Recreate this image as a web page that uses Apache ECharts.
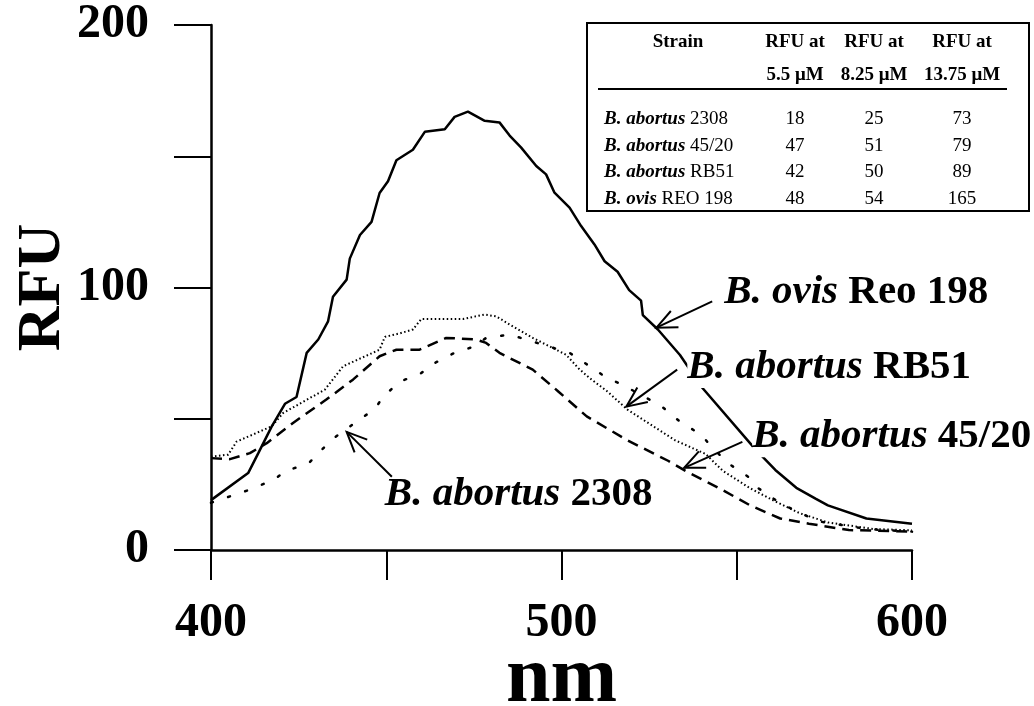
<!DOCTYPE html>
<html><head><meta charset="utf-8">
<script src="https://cdn.jsdelivr.net/npm/echarts@6/dist/echarts.min.js"></script>
<style>html,body{margin:0;padding:0;background:#fff}#c{width:1034px;height:706px}</style>
</head><body><div id="c"></div>
<script>
// ---- data ----
const ovisX = [400,410.6,413.5,417.3,421.1,424.4,427.3,430.6,433.4,434.8,438.7,439.6,442.5,445.8,448.1,450.5,452.9,457.6,461,466.7,469.5,473.3,478.1,482.3,485.2,488.5,492.8,495.6,498,502.3,505.6,509.4,512.3,516,519.3,522.7,523.2,527.5,533.8,540.1,555.2,561,567,572.6,576,587,600];
const ovisY = [19,29.3,36.9,47,55.7,58.3,75.1,80.2,87.1,96.5,103,111,120,125,136,140.5,148.5,152.5,159.3,160.3,165,167,163.5,162.9,157.9,153.3,146.3,143.1,136.1,130.4,123.4,116.4,110,106,99,95,89.5,84,74.3,61.9,38.5,30.5,23.7,19.5,17,12,10];

const rb51X = [400,404.9,407.3,417.3,420.6,432.5,437.7,448.1,449.6,453.8,457.6,460,471.9,478.1,481.4,485.2,491.8,501.3,505,508,513,518.8,532.4,541.1,546,553.7,561,568,576,589,600];
const rb51Y = [35.6,36.3,41.3,47.1,52.2,61.1,70,76.3,81.2,82.5,84,88,88,89.7,89,85.9,80.8,74.4,69,65.5,60.5,53.5,41.8,36.6,30.2,23.6,18.5,14,10.5,8,7.5];

const a4520X = [400,405.4,411.1,415.9,423.4,432.9,440.5,448.1,452.9,459.5,467.1,475.6,478.5,482.3,491.8,499,507.2,518.8,530.4,536.2,544.9,553.7,562.4,570.6,582,600];
const a4520Y = [35,34.6,36.9,40.7,48.4,57.3,64.9,73.8,76.3,76.3,80.8,80.2,78.9,75.1,68.7,60.5,50.9,41.8,34,29.5,23.6,17.1,12,10,7.6,7];

const a2308X = [400,411.6,418.2,421.4,427.7,432.5,435.3,441,446.7,449.1,453.7,460,462.9,469,475.2,478.5,485.2,502.3,508.5,512,518.8,528.5,533.8,540.1,542.6,547.9,553.7,556.1,562.4,573,587,600];
const a2308Y = [18,23.2,27,30.2,32.8,39.4,42.9,48.4,53.7,58.3,64,67.4,70.6,74.8,77.6,80.8,82.1,75.1,69.6,66.4,61.9,54.8,48.9,43.7,39.5,32.7,27.5,23.6,17.8,11,8,7];

const xTicks = [400,500,600];
const yTicks = [0,100,200];

// table
const tableGenus  = ['B. abortus','B. abortus','B. abortus','B. ovis'];
const tableStrain = ['2308','45/20','RB51','REO 198'];
const tableHead1  = ['RFU at','RFU at','RFU at'];
const tableHead2  = ['5.5 \u03bcM','8.25 \u03bcM','13.75 \u03bcM'];
const rfu55   = [18,47,42,48];
const rfu825  = [25,51,50,54];
const rfu1375 = [73,79,89,165];

// curve labels
const labelGenus  = ['B. ovis','B. abortus','B. abortus','B. abortus'];
const labelStrain = ['Reo 198','RB51','45/20','2308'];

// ---- layout (data-space anchors for annotations) ----
const labelAnchor = [[546.4,98.1],[535.9,69.5],[554.4,43.1],[449.6,21.0]];
const arrowTail   = [[543,94.7],[533,68.7],[551.6,41.2],[451.6,27.9]];
const arrowTip    = [[527.1,84.7],[518.5,54.6],[535,31.3],[438.7,45]];

const FONT = "'Liberation Serif','Times New Roman',serif";
const pair = (xs, ys) => xs.map((x, i) => [x, ys[i]]);

const chart = echarts.init(document.getElementById('c'), null, {renderer: 'canvas'});

const base = {
  type: 'line', symbol: 'none', smooth: false, silent: true, animation: false,
  z: 2
};

chart.setOption({
  backgroundColor: '#fff',
  animation: false,
  grid: {left: 211, right: 122, top: 25, bottom: 156, containLabel: false, outerBoundsMode: 'none'},
  xAxis: {
    type: 'value', min: 400, max: 600, interval: 50,
    axisLine: {show: true, onZero: false, lineStyle: {color: '#000', width: 2.5}},
    axisTick: {show: true, inside: false, length: 30, lineStyle: {color: '#000', width: 2}},
    splitLine: {show: false},
    axisLabel: {
      margin: 50, color: '#000', fontFamily: FONT, fontWeight: 'bold', fontSize: 48,
      formatter: v => xTicks.includes(v) ? String(v) : ''
    },
    name: 'nm', nameLocation: 'middle', nameGap: 90, nameMoveOverlap: false,
    nameTextStyle: {color: '#000', fontFamily: FONT, fontWeight: 'bold', fontSize: 80}
  },
  yAxis: {
    type: 'value', min: 0, max: 200, interval: 50,
    axisLine: {show: true, onZero: false, lineStyle: {color: '#000', width: 2.5}},
    axisTick: {show: true, inside: false, length: 37, lineStyle: {color: '#000', width: 2}},
    splitLine: {show: false},
    axisLabel: {
      margin: 62, color: '#000', fontFamily: FONT, fontWeight: 'bold', fontSize: 48,
      formatter: v => yTicks.includes(v) ? String(v) : ''
    },
    name: 'RFU', nameLocation: 'middle', nameGap: 137, nameRotate: 90, nameMoveOverlap: false,
    nameTextStyle: {color: '#000', fontFamily: FONT, fontWeight: 'bold', fontSize: 62}
  },
  series: [
    Object.assign({}, base, {name: 'B. ovis Reo 198', data: pair(ovisX, ovisY),
      lineStyle: {color: '#000', width: 2.5, type: 'solid'}}),
    Object.assign({}, base, {name: 'B. abortus RB51', data: pair(rb51X, rb51Y),
      lineStyle: {color: '#000', width: 2, type: [1.5, 2.5]}}),
    Object.assign({}, base, {name: 'B. abortus 45/20', data: pair(a4520X, a4520Y),
      lineStyle: {color: '#000', width: 2.5, type: [11, 7]}}),
    Object.assign({}, base, {name: 'B. abortus 2308', data: pair(a2308X, a2308Y),
      lineStyle: {color: '#000', width: 2.5, type: [2, 16], cap: 'round'}})
  ]
});

// ---- annotations and table drawn as graphics ----
const g = [];
const toPx = p => chart.convertToPixel({xAxisIndex: 0, yAxisIndex: 0}, p);

labelGenus.forEach((gen, i) => {
  const a = toPx(labelAnchor[i]);
  g.push({
    type: 'text', x: a[0], y: a[1], z: 10,
    style: {
      text: '{i|' + gen + ' }{b|' + labelStrain[i] + '}',
      verticalAlign: 'middle', align: 'left',
      backgroundColor: '#fff',
      rich: {
        i: {fontFamily: FONT, fontWeight: 'bold', fontStyle: 'italic', fontSize: 41, fill: '#000'},
        b: {fontFamily: FONT, fontWeight: 'bold', fontSize: 41, fill: '#000'}
      }
    }
  });
  const t = toPx(arrowTail[i]);
  const h = toPx(arrowTip[i]);
  const ang = Math.atan2(t[1] - h[1], t[0] - h[0]);
  const L = 22, w = 0.42;
  const p1 = [h[0] + L * Math.cos(ang + w), h[1] + L * Math.sin(ang + w)];
  const p2 = [h[0] + L * Math.cos(ang - w), h[1] + L * Math.sin(ang - w)];
  g.push({type: 'line', z: 11, shape: {x1: t[0], y1: t[1], x2: h[0], y2: h[1]},
    style: {stroke: '#000', lineWidth: 2}});
  g.push({type: 'polyline', z: 11, shape: {points: [p1, h, p2]},
    style: {stroke: '#000', lineWidth: 2, fill: null}});
});

// table
const TB = {x: 587, y: 23, w: 442, h: 188};
g.push({type: 'rect', z: 20, shape: {x: TB.x, y: TB.y, width: TB.w, height: TB.h},
  style: {fill: '#fff', stroke: '#000', lineWidth: 2}});
g.push({type: 'line', z: 21, shape: {x1: 598, y1: 89, x2: 1007, y2: 89},
  style: {stroke: '#000', lineWidth: 2}});
const hdrStyle = {fontFamily: FONT, fontWeight: 'bold', fontSize: 19, fill: '#000', align: 'center', verticalAlign: 'middle'};
g.push({type: 'text', z: 21, x: 678, y: 42, style: Object.assign({text: 'Strain'}, hdrStyle)});
const colX = [795, 874, 962];
tableHead1.forEach((h1, j) => {
  g.push({type: 'text', z: 21, x: colX[j], y: 42, style: Object.assign({text: h1}, hdrStyle)});
  g.push({type: 'text', z: 21, x: colX[j], y: 75, style: Object.assign({text: tableHead2[j]}, hdrStyle)});
});
const rowY = [119, 146, 172, 199];
const cellStyle = {fontFamily: FONT, fontSize: 19, fill: '#000', align: 'center', verticalAlign: 'middle'};
tableGenus.forEach((gen, r) => {
  g.push({type: 'text', z: 21, x: 604, y: rowY[r], style: {
    text: '{bi|' + gen + ' }{n|' + tableStrain[r] + '}', align: 'left', verticalAlign: 'middle',
    rich: {
      bi: {fontFamily: FONT, fontWeight: 'bold', fontStyle: 'italic', fontSize: 19, fill: '#000'},
      n: {fontFamily: FONT, fontSize: 19, fill: '#000'}
    }}});
  [rfu55, rfu825, rfu1375].forEach((col, j) => {
    g.push({type: 'text', z: 21, x: colX[j], y: rowY[r], style: Object.assign({text: String(col[r])}, cellStyle)});
  });
});

chart.setOption({graphic: {elements: g}});
</script>
</body></html>
